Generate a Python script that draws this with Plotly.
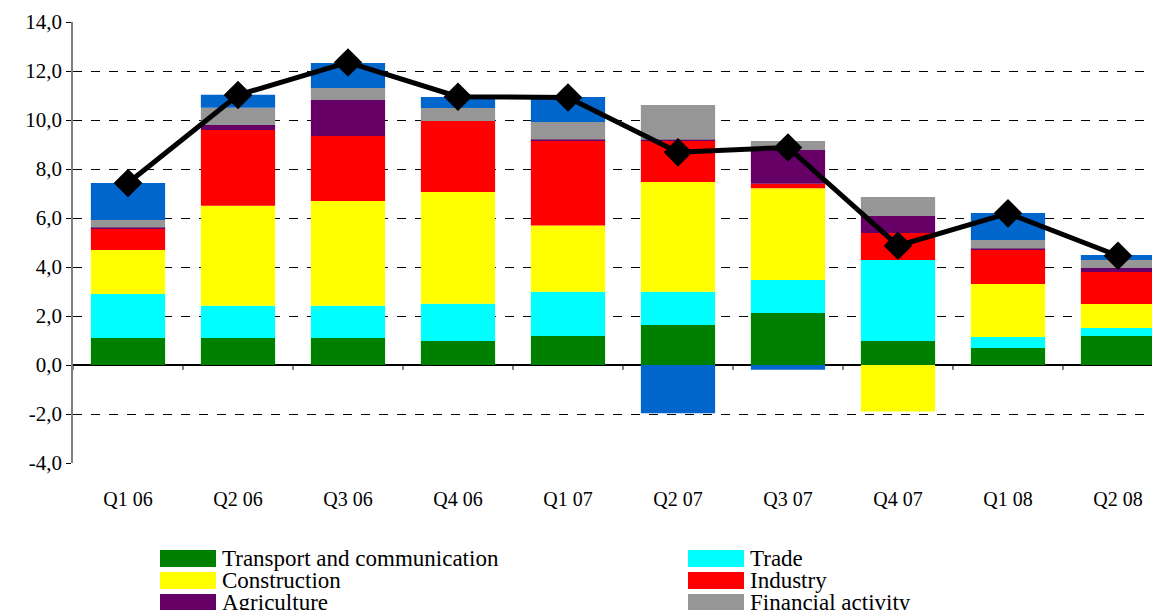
import plotly.graph_objects as go

categories = ["Q1 06", "Q2 06", "Q3 06", "Q4 06", "Q1 07", "Q2 07", "Q3 07", "Q4 07", "Q1 08", "Q2 08"]

transport = [1.10, 1.10, 1.10, 0.98, 1.18, 1.63, 2.12, 0.98, 0.69, 1.18]
trade = [1.80, 1.32, 1.32, 1.52, 1.81, 1.36, 1.35, 3.31, 0.45, 0.33]
construction = [1.79, 4.08, 4.27, 4.56, 2.70, 4.48, 3.74, -1.90, 2.17, 0.98]
industry = [0.89, 3.09, 2.66, 2.90, 3.48, 1.69, 0.19, 1.10, 1.42, 1.31]
agriculture = [0.03, 0.21, 1.47, 0.00, 0.03, 0.03, 1.38, 0.69, 0.03, 0.16]
financial = [0.31, 0.70, 0.49, 0.53, 0.72, 1.42, 0.36, 0.78, 0.34, 0.33]
other = [1.51, 0.53, 1.02, 0.45, 1.02, -1.97, -0.19, 0.00, 1.10, 0.20]
total = [7.43, 11.02, 12.35, 10.95, 10.92, 8.68, 8.88, 4.87, 6.19, 4.46]

series_names = ["Transport and communication", "Trade", "Construction", "Industry",
                "Agriculture", "Financial activity", "Other"]
series_values = [transport, trade, construction, industry, agriculture, financial, other]
series_colors = ["#008000", "#00FFFF", "#FFFF00", "#FF0000", "#660066", "#969696", "#0066CC"]

y_tickvals = [-4, -2, 0, 2, 4, 6, 8, 10, 12, 14]
y_ticktext = ["-4,0", "-2,0", "0,0", "2,0", "4,0", "6,0", "8,0", "10,0", "12,0", "14,0"]

FONT = "Liberation Serif, Times New Roman, serif"

# page body has an 8px margin: figure coordinates = screen coordinates - 8
OFF = 8
W, H = 1160 - OFF, 610 - OFF
L, T = 73 - OFF, 22 - OFF
PW = W - L          # plot width (r = 0)
PH = 441            # plot height
B = H - T - PH

fig = go.Figure()
for name, vals, col in zip(series_names, series_values, series_colors):
    fig.add_trace(go.Bar(x=categories, y=vals, name=name, marker=dict(color=col, line=dict(width=0)),
                         width=0.675, showlegend=False))

fig.add_trace(go.Scatter(x=categories, y=total, mode="lines+markers", name="Total",
                         line=dict(color="black", width=5),
                         marker=dict(symbol="diamond", size=22, color="black"),
                         showlegend=False))

# small tick marks on the zero line at category boundaries
shapes = []
for i in range(len(categories) + 1):
    shapes.append(dict(type="line", xref="x", yref="y", x0=i - 0.5, x1=i - 0.5, y0=0, y1=-0.2,
                       line=dict(color="black", width=1)))


def px_x(sx):
    return (sx - OFF - L) / PW


def px_y(sy):
    return -((sy - OFF) - (T + PH)) / PH


# manual legend (two columns, three rows, last row clipped like the original)
legend_items = list(zip(series_names[:6], series_colors[:6]))
col_x = [160, 688]
row_y = [550, 572, 594]
annotations = []
for k, (name, col) in enumerate(legend_items):
    r, c = divmod(k, 2)
    x0 = col_x[c]
    y0 = row_y[r]
    shapes.append(dict(type="rect", xref="paper", yref="paper",
                       x0=px_x(x0), x1=px_x(x0 + 56),
                       y0=px_y(y0 + 17), y1=px_y(y0),
                       fillcolor=col, line=dict(width=0)))
    annotations.append(dict(xref="paper", yref="paper", x=px_x(x0 + 60),
                            y=px_y(y0 + 8), text=name, showarrow=False,
                            xanchor="left", yanchor="middle",
                            font=dict(family=FONT, size=23, color="black")))

fig.update_layout(
    width=W, height=H,
    margin=dict(l=L, r=0, t=T, b=B, pad=0),
    paper_bgcolor="white", plot_bgcolor="white",
    barmode="relative", bargap=0.325,
    font=dict(family=FONT, size=20, color="black"),
    shapes=shapes, annotations=annotations,
    xaxis=dict(range=[-0.5, 9.382], showgrid=False, showline=False, ticks="",
               tickfont=dict(family=FONT, size=20, color="black"), ticklabelstandoff=22),
    yaxis=dict(range=[-4, 14], tickvals=y_tickvals, ticktext=y_ticktext,
               showgrid=True, gridcolor="black", griddash="dash", gridwidth=1,
               zeroline=True, zerolinecolor="black", zerolinewidth=1.5,
               showline=True, linecolor="#808080", linewidth=1.5,
               ticks="outside", ticklen=5, tickcolor="black",
               tickfont=dict(family=FONT, size=21, color="black")),
)

fig.write_html("out.html")
